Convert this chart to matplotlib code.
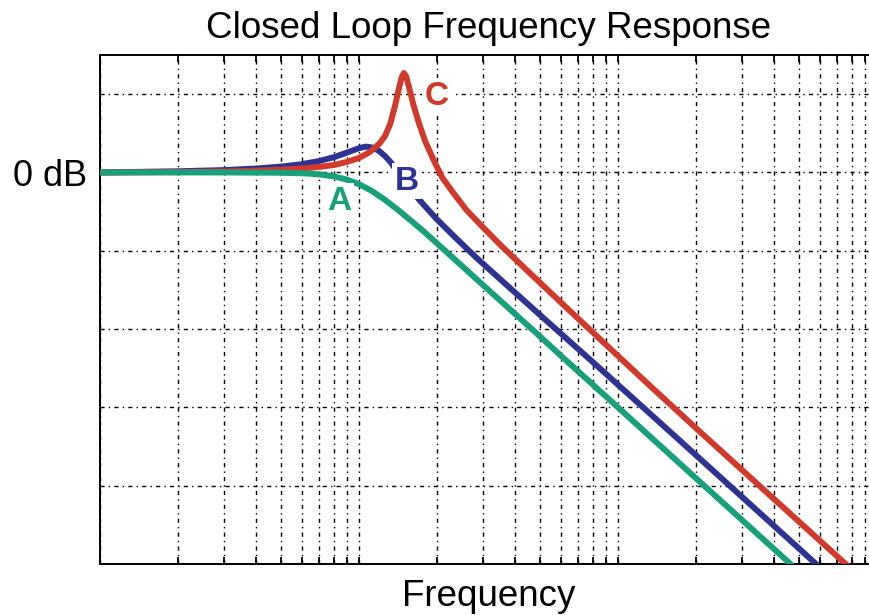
import matplotlib
matplotlib.use("Agg")
from matplotlib import pyplot as plt

plt.rcParams['font.family'] = ['Liberation Sans', 'DejaVu Sans']

# curve A (green) - frequency / gain in dB
freq_a = [1, 3, 5, 6.3, 7.1, 8, 9, 10, 11.2, 12.6, 14.1, 15.8, 17.8, 20, 25,
          31.6, 40, 50, 63, 100, 200, 480]
gain_a = [0, 0, -0.07, -0.26, -0.52, -1.0, -1.85, -3.0, -4.7, -7.0, -9.5,
          -12.2, -15.1, -18.1, -23.9, -30.0, -36.1, -41.9, -48.0, -60.0,
          -78.1, -100.9]

# curve B (blue)
freq_b = [1, 2, 3, 4, 5, 6, 7, 8, 9, 10, 10.6, 11.2, 11.9, 12.6, 13.3, 14.1,
          15, 16, 17.8, 20, 23.7, 28.2, 35, 50, 85, 200, 600]
gain_b = [0, 0.3, 0.6, 1.0, 1.5, 2.1, 2.9, 3.9, 5.1, 6.2, 6.6, 6.4, 5.6, 4.2,
          2.5, 0.0, -2.4, -4.8, -8.3, -12.0, -16.8, -21.6, -27.2, -36.4,
          -50.0, -72.2, -100.8]

# curve C (red)
freq_c = [1, 2, 3, 4, 5, 6, 7, 8, 9, 10, 11, 12, 12.6, 13.2, 13.8, 14.2, 14.6,
          14.9, 15.2, 15.6, 16.2, 17, 18, 19.5, 21, 23, 26, 30, 35, 45, 60,
          85, 130, 200, 350, 780]
gain_c = [0, 0.1, 0.25, 0.45, 0.7, 1.0, 1.4, 1.9, 2.7, 3.7, 5.2, 7.4, 9.3,
          12.4, 17.2, 21.0, 24.2, 25.4, 24.6, 21.8, 17.4, 12.8, 8.0, 2.9,
          -1.4, -5.0, -9.6, -13.9, -18.4, -25.3, -33.1, -42.5, -53.9, -65.3,
          -79.9, -100.8]

green = "#18a07a"
blue = "#2e3393"
red = "#d1392b"

fig = plt.figure(figsize=(8.7, 6.15), dpi=100)
ax = fig.add_axes([100 / 870, 1 - 564 / 615, 777 / 870, 509 / 615])

lw = 4.3
ax.plot(freq_b, gain_b, color=blue, linewidth=lw, solid_capstyle='butt', zorder=3)
ax.plot(freq_c, gain_c, color=red, linewidth=lw, solid_capstyle='butt', zorder=4)
ax.plot(freq_a, gain_a, color=green, linewidth=lw, solid_capstyle='butt', zorder=5)

ax.set_xscale('log')
ax.set_xlim(1, 1000)
ax.set_ylim(-100, 30)
ax.set_yticks([-100, -80, -60, -40, -20, 0, 20])
ax.set_yticklabels(['', '', '', '', '', '0 dB', ''])
ax.tick_params(axis='y', length=0, pad=9, labelsize=26)
ax.tick_params(axis='x', which='both', direction='in', top=True, bottom=True,
               length=5, width=1.3, labelbottom=False)

ax.grid(True, which='both', color='black', linewidth=1.0,
        linestyle=(0, (3, 3, 1, 3)), zorder=1)

for s in ax.spines.values():
    s.set_linewidth(1.4)
ax.spines['right'].set_visible(False)

lab = dict(fontsize=24, fontweight='bold', ha='center', va='center', zorder=6,
           bbox=dict(facecolor='white', edgecolor='none', pad=2))
ax.text(8.37, -7.3, 'A', color=green, **lab)
ax.text(15.3, -2.2, 'B', color=blue, **lab)
ax.text(20.0, 19.5, 'C', color=red, **lab)

ax.set_title('Closed Loop Frequency Response', fontsize=26.5, pad=12)
ax.set_xlabel('Frequency', fontsize=26.5, labelpad=11)

fig.savefig('out.png', dpi=100)
